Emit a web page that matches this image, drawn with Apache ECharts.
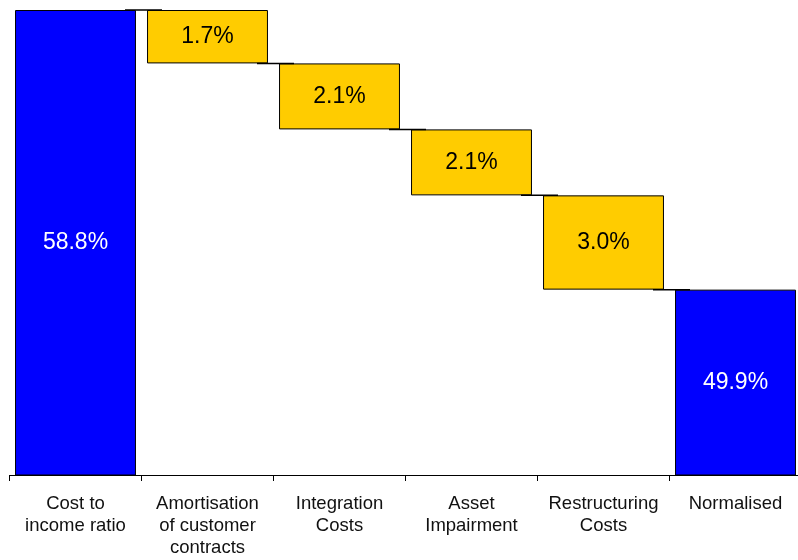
<!DOCTYPE html>
<html>
<head>
<meta charset="utf-8">
<script src="https://cdn.jsdelivr.net/npm/echarts@6/dist/echarts.min.js"></script>
<style>
  html, body { margin: 0; padding: 0; background: #fff; }
  #chart { width: 798px; height: 560px; }
</style>
</head>
<body>
<div id="chart"></div>
<script>
// Cost-to-income bridge: reported ratio, one-off items, normalised ratio
const categories = [
  'Cost to\nincome ratio',
  'Amortisation\nof customer\ncontracts',
  'Integration\nCosts',
  'Asset\nImpairment',
  'Restructuring\nCosts',
  'Normalised'
];
const startValue = 58.8;
const adjustments = [1.7, 2.1, 2.1, 3.0];
const endValue = 49.9;

const BLUE = '#0000FF';
const YELLOW = '#FFCC00';

// Running levels: the top of each step, walking down from the reported ratio
const levels = [startValue];
adjustments.forEach(function (a) {
  levels.push(+(levels[levels.length - 1] - a).toFixed(1));
});

// Invisible offsets under each floating step
const baseData = ['-'];
adjustments.forEach(function (a, i) { baseData.push(levels[i + 1]); });
baseData.push('-');

const barData = [];
barData.push({ value: startValue, itemStyle: { color: BLUE }, label: { color: '#fff' } });
adjustments.forEach(function (a) {
  barData.push({ value: a, itemStyle: { color: YELLOW }, label: { color: '#000' } });
});
barData.push({ value: endValue, itemStyle: { color: BLUE }, label: { color: '#fff' } });

// Connector lines at each level between neighbouring bars
const connectorData = levels.map(function (v, i) { return [i, v]; });

const chart = echarts.init(document.getElementById('chart'));
chart.setOption({
  animation: false,
  grid: {
    left: 9.5, top: 10, width: 792, height: 465,
    containLabel: false, outerBoundsMode: 'none'
  },
  xAxis: {
    type: 'category',
    data: categories,
    axisLine: { lineStyle: { color: '#000', width: 1 } },
    axisTick: { show: true, length: 6, lineStyle: { color: '#000' } },
    axisLabel: {
      interval: 0,
      margin: 18,
      fontFamily: 'Liberation Sans, Arial, sans-serif',
      fontSize: 18.5,
      lineHeight: 22,
      color: '#111'
    }
  },
  yAxis: {
    type: 'value',
    min: 44,
    max: 58.8,
    show: false,
    splitLine: { show: false }
  },
  series: [
    {
      type: 'bar',
      stack: 'w',
      data: baseData,
      barCategoryGap: '8.4%',
      itemStyle: { color: 'transparent', borderWidth: 0 },
      emphasis: { disabled: true },
      silent: true
    },
    {
      type: 'bar',
      stack: 'w',
      data: barData,
      barCategoryGap: '8.4%',
      itemStyle: { borderColor: '#000', borderWidth: 1 },
      label: {
        show: true,
        position: 'inside',
        fontFamily: 'Liberation Sans, Arial, sans-serif',
        fontSize: 23,
        formatter: function (p) { return p.value.toFixed(1) + '%'; }
      }
    },
    {
      type: 'custom',
      data: connectorData,
      z: 5,
      renderItem: function (params, api) {
        const pt = api.coord([api.value(0), api.value(1)]);
        const band = api.size([1, 0])[0];
        const bx = pt[0] + band / 2 + 2;
        return {
          type: 'line',
          shape: { x1: bx - 18.5, y1: pt[1], x2: bx + 18.5, y2: pt[1] },
          style: { stroke: '#000', lineWidth: 1.5 }
        };
      }
    }
  ]
});
</script>
</body>
</html>
